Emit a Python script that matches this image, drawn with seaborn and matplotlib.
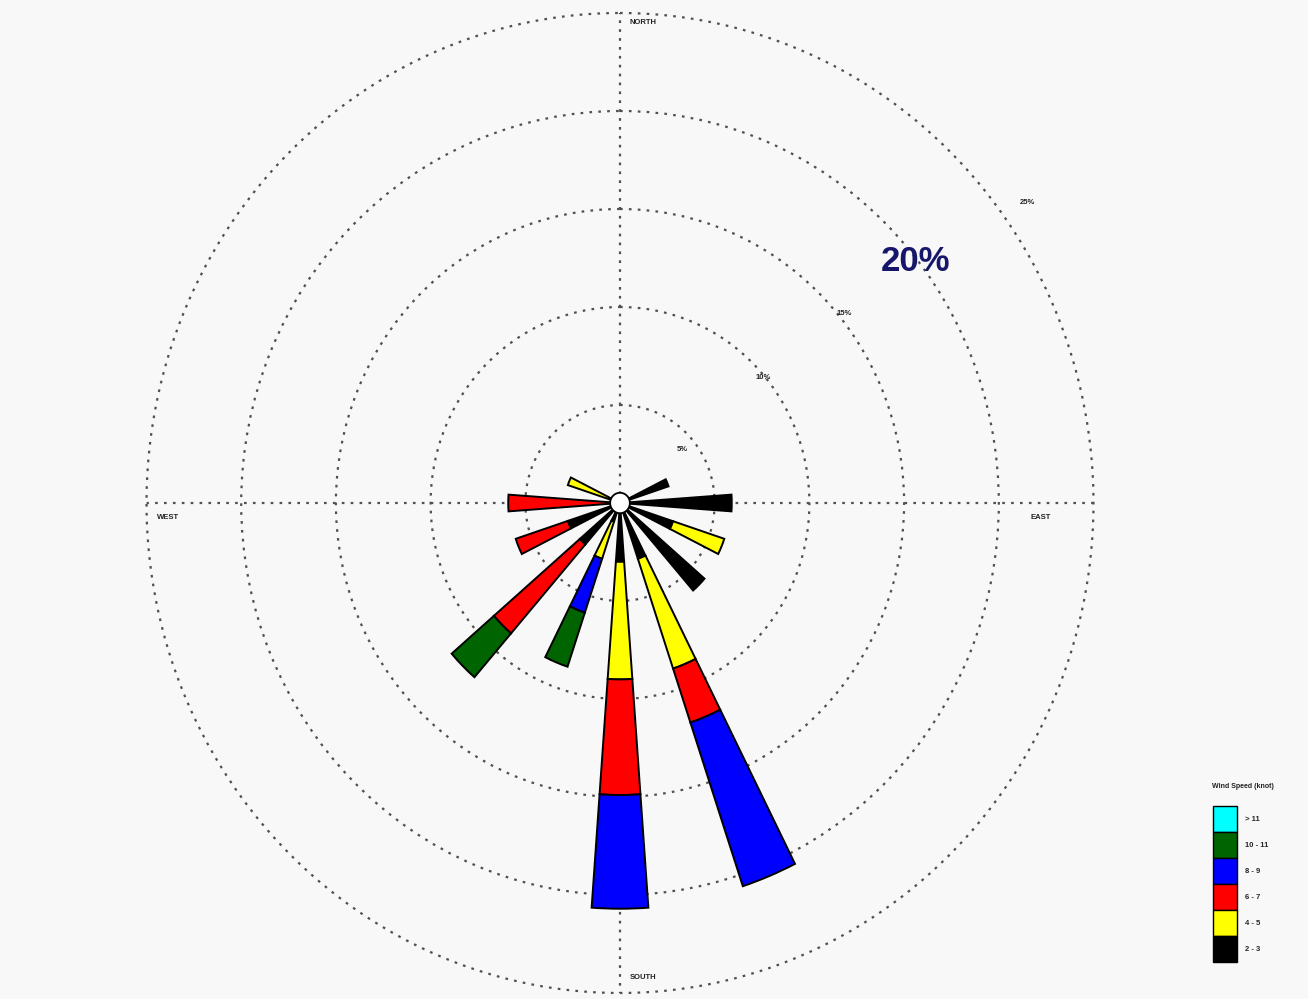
import numpy as np
import matplotlib
matplotlib.use("Agg")
import matplotlib.pyplot as plt
from matplotlib.patches import Patch
import seaborn as sns

# ---- wind rose data (percent of observations) ----
directions = ["N", "NNE", "NE", "ENE", "E", "ESE", "SE", "SSE",
              "S", "SSW", "SW", "WSW", "W", "WNW", "NW", "NNW"]
direction_deg = [0, 22.5, 45, 67.5, 90, 112.5, 135, 157.5,
                 180, 202.5, 225, 247.5, 270, 292.5, 315, 337.5]

speed_bins = ["2 - 3", "4 - 5", "6 - 7", "8 - 9", "10 - 11", "> 11"]
bin_colors = ["#000000", "#ffff00", "#ff0000", "#0000ff", "#006400", "#00ffff"]

freq_2_3   = [0, 0, 0, 2.7, 5.9, 2.95, 5.9, 3.0, 3.0, 1.0, 2.8, 2.9, 0, 0, 0, 0]
freq_4_5   = [0, 0, 0, 0, 0, 2.85, 0, 5.9, 6.0, 2.0, 0, 0, 0, 2.9, 0, 0]
freq_6_7   = [0, 0, 0, 0, 0, 0, 0, 2.9, 5.9, 0, 6.0, 2.9, 5.9, 0, 0, 0]
freq_8_9   = [0, 0, 0, 0, 0, 0, 0, 8.8, 5.8, 2.9, 0, 0, 0, 0, 0, 0]
freq_10_11 = [0, 0, 0, 0, 0, 0, 0, 0, 0, 2.9, 2.95, 0, 0, 0, 0, 0]
freq_gt_11 = [0, 0, 0, 0, 0, 0, 0, 0, 0, 0, 0, 0, 0, 0, 0, 0]

ring_values = [5, 10, 15, 20, 25]
ring_labels = ["5%", "10%", "15%", "20%", "25%"]
cardinals = ["NORTH", "EAST", "SOUTH", "WEST"]
legend_title = "Wind Speed (knot)"

# ---- styling ----
BG = "#f8f8f8"
GRID = "#505050"
DOTS = (0, (1.2, 2.8))

sns.set_theme(style="white", rc={"figure.facecolor": BG, "axes.facecolor": BG})
plt.rcParams["font.family"] = ["Liberation Sans", "DejaVu Sans"]

W, H = 1308, 999
fig = plt.figure(figsize=(W / 100, H / 100), dpi=100)

# rose centre at (620, 503) px; horizontal radius 473.5, vertical 490
cx, cy, rx, ry = 620, 503, 473.5, 490
ax = fig.add_axes([(cx - rx) / W, (H - cy - ry) / H, 2 * rx / W, 2 * ry / H],
                  projection="polar")
ax.set_aspect("auto")
ax.set_theta_zero_location("N")
ax.set_theta_direction(-1)
ax.set_ylim(0, 25)
ax.set_facecolor(BG)
ax.spines["polar"].set_visible(False)

ax.set_rgrids(ring_values[:-1], labels=[])
ax.set_thetagrids([0, 90, 180, 270], labels=[])
ax.grid(True, color=GRID, linestyle=DOTS, linewidth=1.6)
ax.set_axisbelow(True)

# outer ring
full = np.linspace(0, 2 * np.pi, 721)
ax.plot(full, np.full_like(full, ring_values[-1]), color=GRID,
        linestyle=DOTS, linewidth=1.6, clip_on=False, zorder=1)

# ---- stacked wedges ----
theta = np.deg2rad(direction_deg)
width = np.deg2rad(8.3)
series = [freq_2_3, freq_4_5, freq_6_7, freq_8_9, freq_10_11, freq_gt_11]
bottom = np.zeros(len(directions))
for vals, col in zip(series, bin_colors):
    vals = np.asarray(vals, dtype=float)
    mask = vals > 0
    ax.bar(theta[mask], vals[mask], width=width, bottom=bottom[mask],
           color=col, edgecolor="black", linewidth=1.4, zorder=3)
    bottom += vals

# calm circle at the centre
ax.fill(full, np.full_like(full, 0.52), facecolor="white",
        edgecolor="black", linewidth=1.3, zorder=5)

# ---- ring labels ----
label_pos = [(50.3, 4.3), (49.8, 9.9), (50.8, 15.3), (51.7, 19.85), (54.5, 26.4)]
for txt, (ang, r) in zip(ring_labels, label_pos):
    if txt == "20%":
        ax.text(np.deg2rad(ang), r, txt, fontsize=25, fontweight="bold",
                color="#16166b", ha="center", va="center", zorder=6)
    else:
        ax.text(np.deg2rad(ang), r, txt, fontsize=5.5, fontweight="bold",
                color="#222222", ha="center", va="center", zorder=6,
                clip_on=False)

# ---- compass labels ----
card_pos = {"NORTH": (0.5243, 0.9908), "EAST": (0.9446, 0.4857),
            "SOUTH": (0.5243, 0.0163), "WEST": (0.0227, 0.4857)}
for name in cardinals:
    x, y = card_pos[name]
    ax.text(x, y, name, transform=ax.transAxes, fontsize=5.5,
            fontweight="bold", color="#222222", ha="center", va="center")

# ---- legend: contiguous 24x26 px colour boxes ----
fs = 5.5
fs_px = fs * 100 / 72
box_w, box_h = 24, 26
handle_h = (box_h / fs_px - 0.245) / 0.65   # legend trims a descent from the handle box
handles = [Patch(facecolor=c, edgecolor="black", linewidth=1.0)
           for c in bin_colors[::-1]]
fig.legend(handles, speed_bins[::-1], loc="upper left",
           bbox_to_anchor=(1213 / W, 1 - 806 / H), frameon=False,
           borderpad=0, borderaxespad=0, labelspacing=0,
           handlelength=box_w / fs_px, handleheight=handle_h,
           handletextpad=8 / fs_px, prop={"weight": "bold", "size": fs})
fig.text(1212 / W, 1 - 786 / H, legend_title, fontsize=5, fontweight="bold",
         color="#222222", ha="left", va="center")

fig.savefig("out.png", dpi=100, facecolor=BG)
